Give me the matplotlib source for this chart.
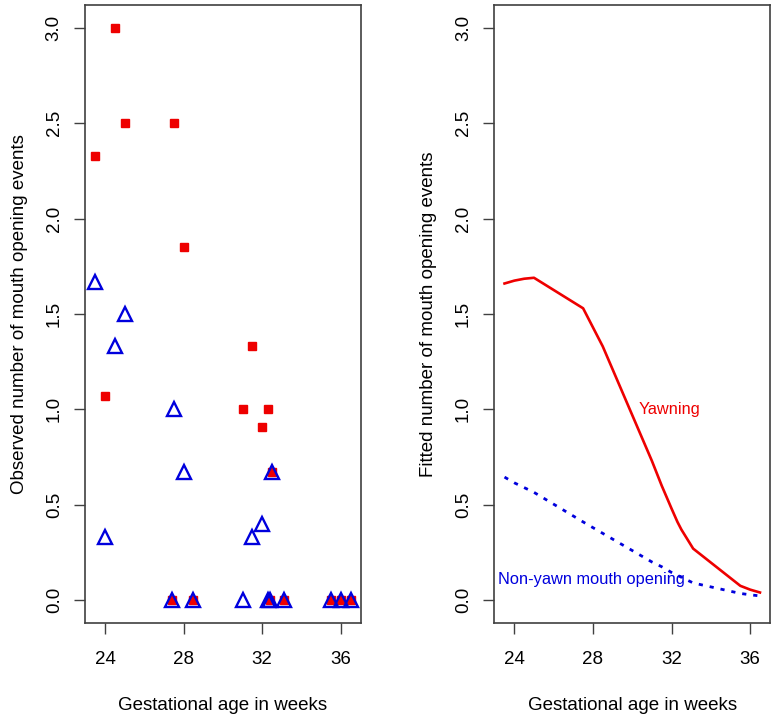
import matplotlib
matplotlib.use("Agg")
import matplotlib.pyplot as plt

plt.rcParams['font.family'] = ['Liberation Sans', 'DejaVu Sans']

# observed counts per fetus / age
ages = [23.5, 24.0, 24.5, 25.0, 27.4, 27.5, 28.0, 28.5, 31.0, 31.5,
        32.0, 32.3, 32.4, 32.5, 33.1, 35.5, 36.0, 36.5]
yawn_obs = [2.33, 1.07, 3.0, 2.5, 0, 2.5, 1.85, 0, 1.0, 1.33,
            0.91, 1.0, 0, 0.67, 0, 0, 0, 0]
nonyawn_obs = [1.67, 0.33, 1.33, 1.5, 0, 1.0, 0.67, 0, 0, 0.33,
               0.4, 0, 0, 0.67, 0, 0, 0, 0]

# fitted curves
fit_ages = [23.5, 24.0, 24.5, 25.0, 27.5, 28.0, 28.5, 31.0, 31.5, 32.0,
            32.3, 32.5, 33.1, 35.5, 36.0, 36.5]
fit_yawn = [1.66, 1.675, 1.685, 1.69, 1.53, 1.43, 1.33, 0.73, 0.60, 0.48,
            0.41, 0.37, 0.27, 0.075, 0.055, 0.04]
fit_nonyawn = [0.645, 0.615, 0.59, 0.565, 0.41, 0.38, 0.35, 0.20, 0.175, 0.145,
               0.13, 0.12, 0.09, 0.035, 0.028, 0.022]

xticks = [24, 28, 32, 36]
yticks = [0.0, 0.5, 1.0, 1.5, 2.0, 2.5, 3.0]

RED = '#ee0000'
BLUE = '#0000dd'
FS = 13.5

fig = plt.figure(figsize=(7.75, 7.18), dpi=100)
ax1 = fig.add_axes([0.1097, 0.1323, 0.356, 0.8607])
ax2 = fig.add_axes([0.6378, 0.1323, 0.356, 0.8607])

for ax in (ax1, ax2):
    ax.set_xlim(22.98, 37.02)
    ax.set_ylim(-0.12, 3.12)
    ax.set_xticks(xticks)
    ax.set_yticks(yticks)
    ax.set_xticklabels([str(t) for t in xticks])
    ax.set_yticklabels(['%.1f' % t for t in yticks], rotation=90, va='center')
    ax.tick_params(labelsize=FS, length=8, width=1, color='#404040')
    ax.tick_params(axis='x', pad=12)
    ax.tick_params(axis='y', pad=8)
    for s in ax.spines.values():
        s.set_color('#404040')
        s.set_linewidth(1.2)
    ax.set_xlabel('Gestational age in weeks', fontsize=FS, labelpad=21)

# left panel: observed data
ax1.plot(ages, yawn_obs, linestyle='none', marker='s', ms=6.3,
         color=RED, mec=RED)
ax1.plot(ages, nonyawn_obs, linestyle='none', marker='^', ms=9.5,
         mfc='none', mec=BLUE, mew=1.7)
ax1.set_ylabel('Observed number of mouth opening events', fontsize=FS, labelpad=13)

# right panel: fitted curves
ax2.plot(fit_ages, fit_yawn, color=RED, lw=1.9)
ax2.plot(fit_ages, fit_nonyawn, color=BLUE, lw=2, linestyle=(0, (1.5, 2.5)))
ax2.text(31.9, 1.0, 'Yawning', color=RED, fontsize=11.8, ha='center', va='center')
ax2.text(27.9, 0.11, 'Non-yawn mouth opening', color=BLUE, fontsize=11.8,
         ha='center', va='center')
ax2.set_ylabel('Fitted number of mouth opening events', fontsize=FS, labelpad=13)

fig.savefig('out.png', dpi=100)
